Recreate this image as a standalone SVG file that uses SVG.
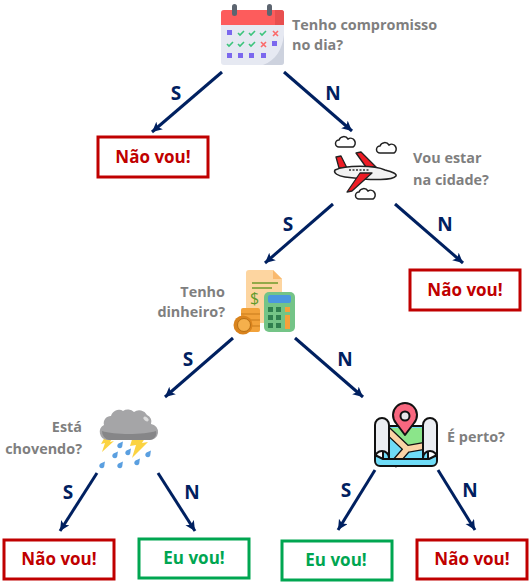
<svg xmlns="http://www.w3.org/2000/svg" width="530" height="584" viewBox="0 0 530 584">
<style>
text{font-family:"Open Sans","Liberation Sans",sans-serif;font-weight:700}
.q{fill:#7f7f7f;font-size:14.4px}
.e{fill:#002060;font-size:19px;text-anchor:middle}
.a{stroke:#002060;stroke-width:3;fill:none;marker-end:url(#h)}
.box{fill:#fff;stroke-width:3}
.r{stroke:#c00000}.g{stroke:#00a651}
.rt,.gt{font-size:17px;text-anchor:middle}
.rt{fill:#c00000}.gt{fill:#00a651}
.o{stroke:#111;stroke-width:2;stroke-linejoin:round}
</style>
<defs>
<marker id="h" markerUnits="userSpaceOnUse" markerWidth="12" markerHeight="12" refX="10" refY="5" orient="auto"><path d="M0 0L10 5L0 10L2.5 5Z" fill="#002060"/></marker>
<g id="cloud"><path d="M-7 4a3.500 3.500 0 0 1 0-7a5 5 0 0 1 9-1a4 4 0 0 1 5 8Z" fill="#fff" stroke="#222" stroke-width="1.500"/></g>
<path id="drop" d="M3 -3.500C2 0 3.200 3 0 3.200C-3 3.200 -3.500 0 -1.500 -1.500Z" fill="#5a9fe0"/>
</defs>
<g id="connectors">
<path class="a" d="M222 72L152 132"/><path class="a" d="M284 72L352 131"/>
<path class="a" d="M333 204L265 263"/><path class="a" d="M395 204L463 263"/>
<path class="a" d="M233 338L165 397"/><path class="a" d="M295 338L363 397"/>
<path class="a" d="M97 473L60 531"/><path class="a" d="M158 473L195 531"/>
<path class="a" d="M375 470L338 530"/><path class="a" d="M438 470L475 530"/>
<text class="e" x="176" y="100">S</text><text class="e" x="333" y="100">N</text>
<text class="e" x="288" y="231">S</text><text class="e" x="445" y="231">N</text>
<text class="e" x="188" y="366">S</text><text class="e" x="345" y="366">N</text>
<text class="e" x="68" y="499">S</text><text class="e" x="192" y="499">N</text>
<text class="e" x="346" y="497">S</text><text class="e" x="470" y="497">N</text>
</g>
<g id="n-calendar">
<rect x="221" y="10" width="63" height="55" rx="3" fill="#e6e9f2"/>
<path d="M275 65h6a3 3 0 0 0 3-3V35C282 50 276 60 263 65Z" fill="#cdd2de"/>
<path d="M221 25V13a3 3 0 0 1 3-3h57a3 3 0 0 1 3 3v12Z" fill="#fd5c5c"/>
<path d="M275 10h6a3 3 0 0 1 3 3v12h-9Z" fill="#e84f4f"/>
<rect x="232" y="4" width="5" height="12" rx="2.500" fill="#5c6570"/><rect x="267" y="4" width="5" height="12" rx="2.500" fill="#5c6570"/>
<g fill="#7b68ee"><rect x="227" y="30" width="5" height="5"/><rect x="272" y="41" width="5" height="5"/><rect x="227" y="53" width="5" height="5"/><rect x="238" y="53" width="5" height="5"/><rect x="249" y="53" width="5" height="5"/><rect x="261" y="53" width="5" height="5"/></g>
<path d="M238 33l2 2 4-4M249 33l2 2 4-4M260 33l2 2 4-4M227 44l2 2 4-4M238 44l2 2 4-4M249 44l2 2 4-4" fill="none" stroke="#3cc47c" stroke-width="1.600"/>
<path d="M273 31l5 5m0-5l-5 5M261 42l5 5m0-5l-5 5" fill="none" stroke="#fb6a6a" stroke-width="1.600"/>
<text class="q" x="292" y="30">Tenho compromisso</text><text class="q" x="292" y="50">no dia?</text>
</g>
<g id="n-nao1"><rect class="box r" x="98" y="137" width="110" height="40"/><text class="rt" x="153" y="163">Não vou!</text></g>
<g id="n-plane">
<use href="#cloud" x="346" y="143"/><use href="#cloud" x="387" y="149"/><use href="#cloud" x="366" y="195"/>
<path d="M336 157L341 156L347 168H339ZM356 153L361 152L376 167H366Z" fill="#ee1c25" stroke="#222" stroke-width="1.300" stroke-linejoin="round"/>
<path d="M335 170C345 165 375 165 385 170C393 172 397 174 396 176C393 180 375 181 345 177C338 176 333 173 335 170Z" fill="#f2f2f2" stroke="#222" stroke-width="1.500"/>
<path d="M349 170h20" stroke="#333" stroke-width="1.500" stroke-dasharray="2 1.500"/>
<path d="M347 192L352 191L372 173H360Z" fill="#ee1c25" stroke="#222" stroke-width="1.300" stroke-linejoin="round"/>
<text class="q" x="413" y="163">Vou estar</text><text class="q" x="413" y="185">na cidade?</text>
</g>
<g id="n-nao2"><rect class="box r" x="410" y="270" width="110" height="40"/><text class="rt" x="465" y="296">Não vou!</text></g>
<g id="n-money">
<path d="M249 270h24l9 9v44h-36v-50a3 3 0 0 1 3-3Z" fill="#fdd5a0"/><path d="M273 270l9 9h-9Z" fill="#f9b96e"/>
<path d="M252 283h26M252 288h20" stroke="#6f9a2c" stroke-width="1.500"/>
<text x="250" y="304" font-size="16" fill="#5f9a2c" style="font-weight:400">$</text>
<rect x="264" y="292" width="31" height="40" rx="5" fill="#74c487"/><rect x="268" y="295" width="23" height="8" rx="2" fill="#4b97e0"/>
<g fill="#2f7f4f"><rect x="268" y="307" width="5" height="5"/><rect x="276" y="307" width="5" height="5"/><rect x="268" y="315" width="5" height="5"/><rect x="276" y="315" width="5" height="5"/><rect x="268" y="323" width="5" height="5"/><rect x="276" y="323" width="5" height="5"/></g>
<rect x="285" y="307" width="5" height="5" fill="#f5a13c"/><rect x="285" y="315" width="5" height="14" fill="#f5a13c"/>
<rect x="241" y="308" width="19" height="24" rx="2" fill="#f2a23a"/><path d="M241 314h19M241 320h19M241 326h19" stroke="#c77a1a"/>
<circle cx="243" cy="325" r="9.500" fill="#d9831d"/><circle cx="244" cy="325" r="6.500" fill="#f5b04c" stroke="#b86f14"/>
<text class="q" x="225" y="297" text-anchor="end">Tenho</text><text class="q" x="225" y="317" text-anchor="end">dinheiro?</text>
</g>
<g id="n-rain">
<path d="M106 435h8l-4 7 4-1-12 11 3-9-4 1ZM134 433h14l-6 10 6-1-16 16 4-13-6 1Z" fill="#fbd341"/>
<path d="M107 440a8 8 0 0 1-3-15a7 7 0 0 1 7-9a8 8 0 0 1 12-5a9 9 0 0 1 11 1a9 9 0 0 1 13 3a7 7 0 0 1 4 9a8 8 0 0 1-2 16Z" fill="#a5a5a7"/>
<path d="M102 431a9 9 0 0 0 7 9h40a7 7 0 0 0 7-9c-12 4-42 4-54 0Z" fill="#868688"/>
<ellipse cx="146" cy="419" rx="3" ry="1.800" transform="rotate(35 146 419)" fill="#dcdcdc"/>
<use href="#drop" x="120" y="445"/><use href="#drop" x="115" y="455"/><use href="#drop" x="128" y="452"/><use href="#drop" x="148" y="454"/><use href="#drop" x="102" y="465"/><use href="#drop" x="120" y="465"/><use href="#drop" x="137" y="462"/>
<text class="q" x="82" y="432" text-anchor="end">Está</text><text class="q" x="82" y="454" text-anchor="end">chovendo?</text>
</g>
<g id="n-map">
<path d="M383 426H428V462H383Z" fill="#6fdcf7" stroke="#111" stroke-width="2"/>
<path d="M389 428H424V445L407 449Z" fill="#8be58a"/>
<path d="M387 430L407 449L424 446M407 449L393 465" fill="none" stroke="#111" stroke-width="8"/><path d="M387 430L407 449L424 446M407 449L393 465" fill="none" stroke="#fbd3a6" stroke-width="5.500"/>
<path class="o" d="M375 455V461a5 5 0 0 0 5 5h52a5 5 0 0 0 5-5V455l-8 4H383Z" fill="#6fdcf7"/>
<path class="o" d="M375 425a7 7 0 0 1 14 0V458a7 7 0 0 0-14 0Z" fill="#eceef2"/><path class="o" d="M423 425a7 7 0 0 1 14 0V458a7 7 0 0 0-14 0Z" fill="#eceef2"/>
<path class="o" d="M405 435L396 423a12 12 0 1 1 18 0Z" fill="#f8677f"/><circle class="o" cx="405" cy="416" r="4.500" fill="#e6e6ea"/>
<text class="q" x="447" y="442">É perto?</text>
</g>
<g id="n-nao3"><rect class="box r" x="4" y="540" width="110" height="39"/><text class="rt" x="59" y="565">Não vou!</text></g>
<g id="n-eu1"><rect class="box g" x="139" y="539" width="110" height="39"/><text class="gt" x="194" y="564">Eu vou!</text></g>
<g id="n-eu2"><rect class="box g" x="282" y="541" width="110" height="39"/><text class="gt" x="336" y="566">Eu vou!</text></g>
<g id="n-nao4"><rect class="box r" x="417" y="540" width="110" height="39"/><text class="rt" x="472" y="565">Não vou!</text></g>
</svg>
